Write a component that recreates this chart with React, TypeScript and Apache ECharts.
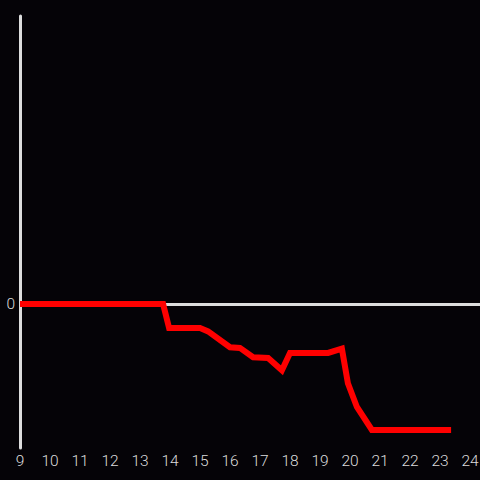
import React, { useEffect, useRef } from "react";
import * as echarts from "echarts";

const hours = [9, 13.77, 13.97, 15.0, 15.27, 16.0, 16.33, 16.77, 17.27, 17.73, 18.0, 19.27, 19.73, 19.93, 20.23, 20.73, 23.37];
const values = [0, 0, -0.167, -0.167, -0.19, -0.3, -0.305, -0.37, -0.375, -0.46, -0.34, -0.34, -0.31, -0.55, -0.715, -0.875, -0.875];
const xTicks = [9, 10, 11, 12, 13, 14, 15, 16, 17, 18, 19, 20, 21, 22, 23, 24];

export default function App() {
  const ref = useRef<HTMLDivElement>(null);
  useEffect(() => {
    if (!ref.current) return;
    const chart = echarts.init(ref.current, null, { renderer: "svg" });
    chart.setOption({
      animation: false,
      backgroundColor: "#050307",
      grid: { left: 20, right: 0, top: 16, bottom: 32, containLabel: false, outerBoundsMode: "none" },
      xAxis: {
        type: "value",
        min: 9,
        max: 24.3333,
        interval: 1,
        axisLine: { show: false, onZero: false },
        axisTick: { show: false },
        splitLine: { show: false },
        axisLabel: {
          color: "#dcdcdc",
          fontSize: 15.5,
          fontFamily: "Roboto",
          fontWeight: 300,
          margin: 5,
          hideOverlap: false,
          formatter: (v: number) => (xTicks.includes(v) ? String(v) : ""),
        },
      },
      yAxis: {
        type: "value",
        min: -1,
        max: 2,
        interval: 1,
        axisLine: { show: true, lineStyle: { color: "#dddddd", width: 3 } },
        axisTick: { show: false },
        splitLine: { show: false },
        axisLabel: {
          color: "#dcdcdc",
          fontSize: 15.5,
          fontFamily: "Roboto",
          fontWeight: 300,
          margin: 5,
          formatter: (v: number) => (v === 0 ? "0" : ""),
        },
      },
      series: [
        {
          type: "line",
          data: [],
          z: 1,
          silent: true,
          markLine: {
            z: 1,
            silent: true,
            symbol: "none",
            label: { show: false },
            lineStyle: { color: "#dddddd", width: 3, type: "solid" },
            data: [{ yAxis: 0 }],
          },
        },
        {
          type: "line",
          z: 10,
          data: hours.map((h, i) => [h, values[i]]),
          showSymbol: false,
          lineStyle: { color: "#ff0000", width: 6, join: "miter" },
        },
      ],
    });
    return () => chart.dispose();
  }, []);
  return <div ref={ref} style={{ width: 480, height: 480, position: "absolute", left: 0, top: 0 }} />;
}
